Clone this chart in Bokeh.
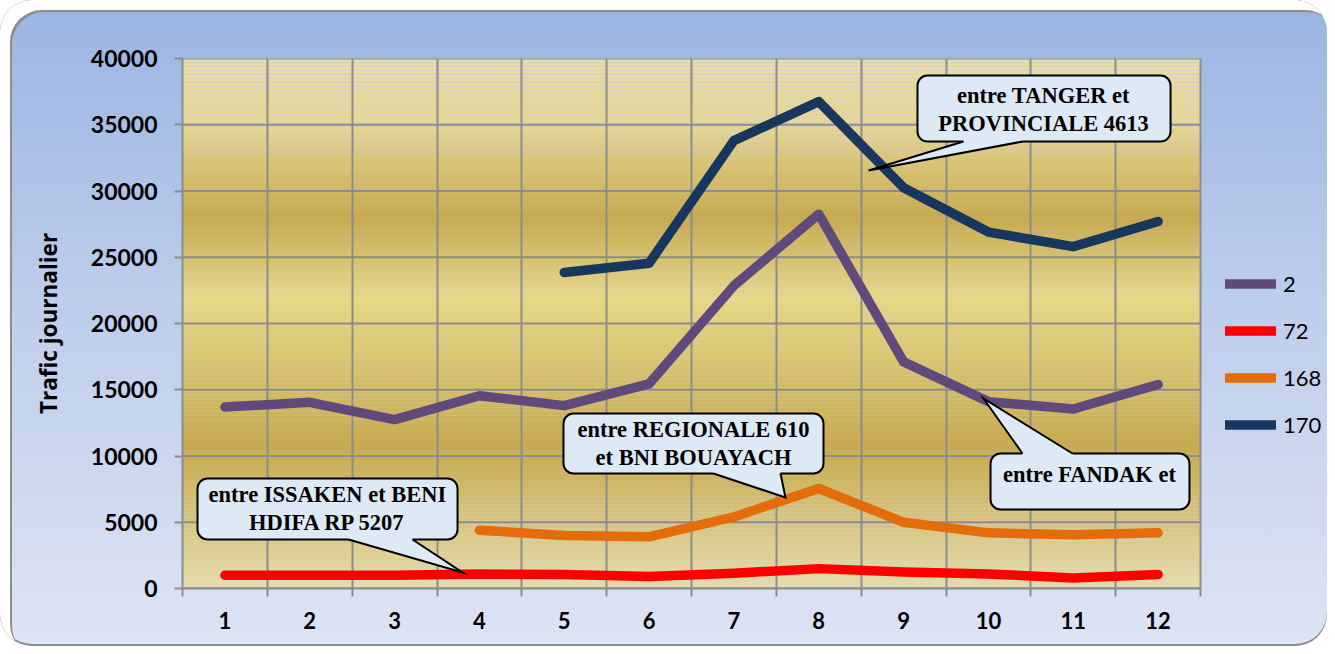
import math
from bokeh.plotting import figure
from bokeh.models import Range1d, FixedTicker, Legend, LegendItem
from bokeh.core.properties import value
from bokeh.embed import file_html
from bokeh.resources import INLINE

# ---------------- data ----------------
months = list(range(1, 13))
nan = float("nan")
route_2 = [13700, 14050, 12750, 14550, 13800, 15450, 22850, 28250, 17100, 14100, 13550, 15400]
route_72 = [1000, 1000, 1000, 1100, 1050, 900, 1150, 1500, 1250, 1100, 800, 1050]
route_168 = [nan, nan, nan, 4400, 4000, 3900, 5400, 7550, 5000, 4200, 4050, 4200]
route_170 = [nan, nan, nan, nan, 23850, 24550, 33800, 36750, 30250, 26900, 25800, 27700]
series_names = ["2", "72", "168", "170"]
series_values = [route_2, route_72, route_168, route_170]
series_colors = ["#604A7B", "#FF0000", "#E46C0A", "#17375E"]
y_ticks = [0, 5000, 10000, 15000, 20000, 25000, 30000, 35000, 40000]
y_title = "Trafic journalier"

# ---------------- figure ----------------
W, H = 1327, 646
left_px, plot_right_px = 182, 1200
cat_px = (plot_right_px - left_px) / 12.0
x_end = 0.5 + (W - left_px) / cat_px  # frame extends to the right edge; plot area stops at 12.5
x_lo, x_hi = 0.5, 12.5

p = figure(width=W, height=H, output_backend="svg", toolbar_location=None,
           x_range=Range1d(0.5, x_end), y_range=Range1d(0, 40000),
           min_border_left=left_px, min_border_right=0, min_border_top=58, min_border_bottom=58)
p.border_fill_color = None
p.background_fill_color = None
p.outline_line_color = None
p.styles = {
    "background": "linear-gradient(to bottom, #9AB4E2 0%, #BCCCEB 45%, #DDE4F3 100%)",
    "border-radius": "32px",
    "box-shadow": "inset 10px 10px 0 0 #FFFFFF, inset 12px 12px 0 0 #8C8C8C, inset 0 -2px 0 0 #8C8C8C",
}

# plot-area gold gradient (background bands)
stops_t = [0.0, 0.12, 0.30, 0.45, 0.73, 1.0]
stops_c = [(0xE6, 0xDD, 0xA8), (0xE6, 0xD8, 0x94), (0xC7, 0xAA, 0x52),
           (0xE6, 0xD7, 0x8B), (0xC7, 0xAA, 0x52), (0xE6, 0xDC, 0xA8)]


def grad_color(t):
    for i in range(len(stops_t) - 1):
        if stops_t[i] <= t <= stops_t[i + 1]:
            f = (t - stops_t[i]) / (stops_t[i + 1] - stops_t[i])
            c = [round(a + (b - a) * f) for a, b in zip(stops_c[i], stops_c[i + 1])]
            return "#%02X%02X%02X" % tuple(c)
    return "#%02X%02X%02X" % stops_c[-1]


nb = 132
ymax = 40000.0
bb = [ymax * i / nb for i in range(nb)]
bt = [ymax * (i + 1) / nb + 1 for i in range(nb)]
bc = [grad_color(1 - (ymax * (i + 0.5) / nb) / ymax) for i in range(nb)]
bg = p.quad(left=x_lo, right=x_hi, bottom=bb, top=bt, fill_color=bc, line_color=None)
bg.level = "image"

# grids
boundaries = [0.5 + i for i in range(13)]
p.xgrid.ticker = FixedTicker(ticks=boundaries)
p.xgrid.grid_line_color = "#8C8C8C"
p.xgrid.grid_line_width = 2
p.ygrid.grid_line_color = None
# horizontal grid lines limited to the plot area
p.segment(x0=[x_lo] * len(y_ticks), x1=[x_hi] * len(y_ticks), y0=y_ticks, y1=y_ticks,
          line_color="#8C8C8C", line_width=2)

# axes
xa = p.xaxis[0]
xa.ticker = FixedTicker(ticks=months, minor_ticks=boundaries)
xa.bounds = (x_lo, x_hi)
xa.major_tick_out = 0
xa.major_tick_in = 0
xa.minor_tick_out = 8
xa.minor_tick_in = 0
xa.minor_tick_line_color = "#8C8C8C"
xa.minor_tick_line_width = 2
xa.axis_line_color = "#8C8C8C"
xa.axis_line_width = 2
xa.major_label_standoff = 15
xa.major_label_text_font = "Lato"
xa.major_label_text_font_style = "bold"
xa.major_label_text_font_size = "22px"
xa.major_label_text_color = "black"

ya = p.yaxis[0]
ya.ticker = FixedTicker(ticks=y_ticks)
ya.minor_tick_line_color = None
ya.major_tick_out = 8
ya.major_tick_in = 0
ya.major_tick_line_color = "#8C8C8C"
ya.major_tick_line_width = 2
ya.axis_line_color = "#8C8C8C"
ya.axis_line_width = 2
ya.major_label_standoff = 17
ya.major_label_text_font = "Lato"
ya.major_label_text_font_style = "bold"
ya.major_label_text_font_size = "23px"
ya.major_label_text_color = "black"
ya.axis_label = y_title
ya.axis_label_text_font = "Open Sans"
ya.axis_label_text_font_style = "bold"
ya.axis_label_text_font_size = "22.5px"
ya.axis_label_text_color = "black"
ya.axis_label_standoff = 24

# series lines
items = []
for name, vals, col in zip(series_names, series_values, series_colors):
    r = p.line(months, vals, line_color=col, line_width=9.5, line_cap="round", line_join="round")
    items.append(LegendItem(label=name, renderers=[r]))

# callouts
box_fill = "#DEE9F6"


def callout(left, right, top, bottom, bx0, bx1, by, inward, tipx, tipy, txt, tx, ty):
    p.quad(left=[left], right=[right], top=[top], bottom=[bottom], fill_color=box_fill,
           line_color="black", line_width=2, border_radius=10)
    p.patch([bx0, bx0, tipx, bx1, bx1], [by + inward, by, tipy, by, by + inward],
            fill_color=box_fill, line_color=None)
    p.line([bx0, tipx, bx1], [by, tipy, by], line_color="black", line_width=2, line_join="miter")
    p.text(x=[tx], y=[ty], text=[txt], text_font=value("Liberation Serif"), text_font_style="bold",
           text_font_size="22.5px", text_align="center", text_baseline="middle", text_line_height=1.1,
           text_color="black")


callout(9.164, 12.147, 38716, 33735, 9.706, 10.402, 33735, 300, 8.587, 31547,
        "entre TANGER et\nPROVINCIALE 4613", 10.649, 36150)
callout(4.991, 8.056, 13207, 8679, 6.759, 7.549, 8679, 300, 7.608, 6868,
        "entre REGIONALE 610\net BNI BOUAYACH", 6.524, 10943)
callout(0.677, 3.742, 8302, 3698, 2.457, 3.211, 3698, 300, 3.801, 1208,
        "entre ISSAKEN et BENI\nHDIFA RP 5207", 2.209, 6038)
callout(10.025, 12.370, 10188, 5962, 10.402, 10.991, 10188, -300, 9.942, 14340,
        "entre FANDAK et", 11.192, 8604)

legend = Legend(items=items, location=(1043, 150), orientation="vertical",
                glyph_width=51, glyph_height=27, label_height=27, label_standoff=7,
                spacing=20, padding=0, margin=0, border_line_color=None,
                background_fill_alpha=0, label_text_font="Lato",
                label_text_font_size="22px", label_text_color="black")
p.add_layout(legend)

open("out.html", "w").write(file_html(p, INLINE))
